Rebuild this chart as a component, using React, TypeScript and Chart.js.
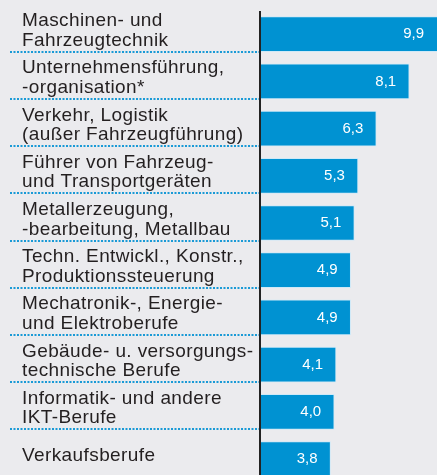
import React, { useEffect, useRef } from "react";
import { Chart, registerables } from "chart.js";

Chart.register(...registerables);

const categories: string[][] = [
  ["Maschinen- und", "Fahrzeugtechnik"],
  ["Unternehmensführung,", "-organisation*"],
  ["Verkehr, Logistik", "(außer Fahrzeugführung)"],
  ["Führer von Fahrzeug-", "und Transportgeräten"],
  ["Metallerzeugung,", "-bearbeitung, Metallbau"],
  ["Techn. Entwickl., Konstr.,", "Produktionssteuerung"],
  ["Mechatronik-, Energie-", "und Elektroberufe"],
  ["Gebäude- u. versorgungs-", "technische Berufe"],
  ["Informatik- und andere", "IKT-Berufe"],
  ["Verkaufsberufe"],
];

const values: number[] = [9.9, 8.1, 6.3, 5.3, 5.1, 4.9, 4.9, 4.1, 4.0, 3.8];
const valueLabels: string[] = values.map((v) => v.toFixed(1).replace(".", ","));

const BG = "#ebebee";
const BAR = "#0092d2";
const TEXT = "#231f20";

const decorPlugin = {
  id: "decor",
  beforeDraw(chart: any) {
    const { ctx } = chart;
    ctx.save();
    ctx.fillStyle = BG;
    ctx.fillRect(0, 0, chart.width, chart.height);
    ctx.restore();
  },
  afterDatasetsDraw(chart: any) {
    const { ctx, chartArea } = chart;
    const meta = chart.getDatasetMeta(0);
    ctx.save();
    // separators
    ctx.strokeStyle = "#1a9ad6";
    ctx.lineWidth = 2;
    ctx.setLineDash([2, 1.5]);
    meta.data.forEach((bar: any, i: number) => {
      if (i === meta.data.length - 1) return;
      const y = Math.round(bar.y + bar.height / 2);
      ctx.beginPath();
      ctx.moveTo(10, y);
      ctx.lineTo(259, y);
      ctx.stroke();
    });
    ctx.setLineDash([]);
    // axis line
    ctx.strokeStyle = "#222";
    ctx.lineWidth = 2;
    ctx.beginPath();
    ctx.moveTo(chartArea.left - 1, 11);
    ctx.lineTo(chartArea.left - 1, chart.height);
    ctx.stroke();
    // category labels
    ctx.fillStyle = TEXT;
    ctx.font = "19px 'Liberation Sans', Arial, sans-serif";
    (ctx as any).letterSpacing = "0.4px";
    ctx.textAlign = "left";
    ctx.textBaseline = "alphabetic";
    meta.data.forEach((bar: any, i: number) => {
      const lines = categories[i];
      const c = bar.y - 5;
      const lh = 19.5;
      lines.forEach((line, j) => {
        const yMid = c + (j - (lines.length - 1) / 2) * lh;
        ctx.fillText(line, 22, yMid + 6.8);
      });
    });
    (ctx as any).letterSpacing = "0px";
    // value labels
    ctx.fillStyle = "#ffffff";
    ctx.font = "15px 'Liberation Sans', Arial, sans-serif";
    ctx.textAlign = "right";
    ctx.textBaseline = "middle";
    meta.data.forEach((bar: any, i: number) => {
      const right = Math.min(bar.x, chart.width);
      ctx.fillText(valueLabels[i], right - 13, bar.y);
    });
    ctx.restore();
  },
};

export default function App() {
  const ref = useRef<HTMLCanvasElement>(null);
  useEffect(() => {
    if (!ref.current) return;
    const chart = new Chart(ref.current, {
      type: "bar",
      data: {
        labels: categories.map((c) => c.join(" ")),
        datasets: [
          {
            data: values,
            backgroundColor: BAR,
            borderColor: "#cfe9f7",
            borderWidth: 1,
            borderSkipped: "left",
            barThickness: 35,
            clip: false,
          } as any,
        ],
      },
      options: {
        indexAxis: "y",
        animation: false,
        responsive: false,
        maintainAspectRatio: false,
        layout: { padding: { left: 261, right: 0, top: 34.2, bottom: 16 } },
        plugins: {
          legend: { display: false },
          tooltip: { enabled: false },
        },
        scales: {
          x: { display: false, min: 0, max: 9.62 },
          y: { display: false, offset: false, grid: { display: false } },
        },
      },
      plugins: [decorPlugin],
    });
    return () => chart.destroy();
  }, []);
  return (
    <div style={{ position: "absolute", left: 0, top: 0, width: 437, height: 475 }}>
      <canvas ref={ref} width={437} height={475} style={{ display: "block" }} />
    </div>
  );
}
